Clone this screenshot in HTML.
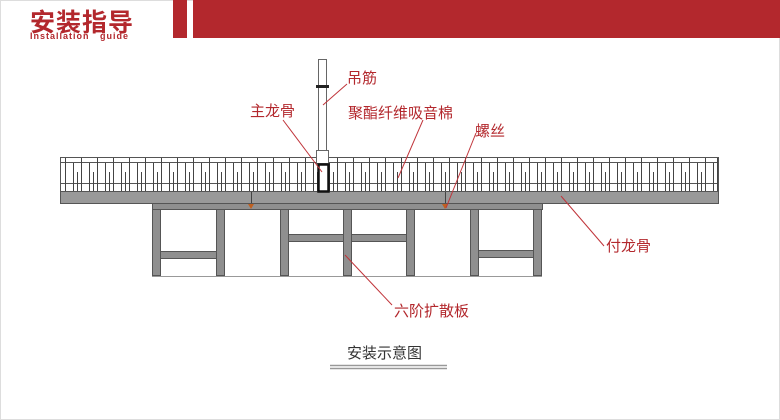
<!DOCTYPE html>
<html><head><meta charset="utf-8"><style>
html,body{margin:0;padding:0;background:#fff;}
body{width:780px;height:420px;position:relative;overflow:hidden;font-family:"Liberation Sans","Noto Sans CJK SC",sans-serif;}
.t{position:absolute;white-space:nowrap;}
</style></head><body>
<svg width="780" height="420" style="position:absolute;left:0;top:0">
<rect x="0.5" y="0.5" width="779" height="419" fill="none" stroke="#ddd"/>
<rect x="173" y="0" width="14" height="38" fill="#b3282d"/>
<rect x="193" y="0" width="587" height="38" fill="#b3282d"/>
<g stroke="#555" stroke-width="1" fill="none">
<rect x="60.5" y="157.5" width="658" height="34"/>
<line x1="60" y1="162.5" x2="718" y2="162.5"/>
<line x1="60" y1="183.5" x2="718" y2="183.5"/>
</g>
<g id="v" stroke="#444" stroke-width="1"></g>
<rect x="60.5" y="191.5" width="658" height="12" fill="#999" stroke="#555"/>
<line x1="251.5" y1="192" x2="251.5" y2="204" stroke="#444"/>
<line x1="445.5" y1="192" x2="445.5" y2="204" stroke="#444"/>
<g fill="#8f8f8f" stroke="#555">
<rect x="152.5" y="203.5" width="390" height="6"/>
<rect x="152.5" y="209.5" width="8" height="66"/>
<rect x="216.5" y="209.5" width="8" height="66"/>
<rect x="280.5" y="209.5" width="8" height="66"/>
<rect x="343.5" y="209.5" width="8" height="66"/>
<rect x="406.5" y="209.5" width="8" height="66"/>
<rect x="470.5" y="209.5" width="8" height="66"/>
<rect x="533.5" y="209.5" width="8" height="66"/>
<rect x="160.5" y="251.5" width="56" height="7"/>
<rect x="288.5" y="234.5" width="55" height="7"/>
<rect x="351.5" y="234.5" width="55" height="7"/>
<rect x="478.5" y="250.5" width="55" height="7"/>
</g>
<line x1="152" y1="276.5" x2="542" y2="276.5" stroke="#999"/>
<path d="M248 204 l3 5 l3 -5 z" fill="#c06020"/>
<path d="M442 204 l3 5 l3 -5 z" fill="#c06020"/>
<rect x="318.5" y="59.5" width="8" height="91" fill="#fff" stroke="#666"/>
<rect x="316" y="85" width="13" height="3" fill="#222"/>
<rect x="316.5" y="150.5" width="12" height="13" fill="#fff" stroke="#666"/>
<rect x="318.5" y="164.5" width="10" height="27" fill="#fff" stroke="#111" stroke-width="2.5"/>
<g stroke="#c0343a" stroke-width="1">
<line x1="323" y1="105" x2="347" y2="84"/>
<line x1="283" y1="120" x2="322" y2="172"/>
<line x1="423" y1="120" x2="398" y2="178"/>
<line x1="476" y1="133" x2="446" y2="208"/>
<line x1="561" y1="196" x2="604" y2="246"/>
<line x1="345" y1="255" x2="392" y2="305"/>
</g>
<line x1="330" y1="365.5" x2="447" y2="365.5" stroke="#999" stroke-width="1.5"/>
<line x1="330" y1="368.5" x2="447" y2="368.5" stroke="#999" stroke-width="1.5"/>
</svg>
<div class="t" style="left:30px;top:3px;font-size:25px;font-weight:bold;color:#b3282d;letter-spacing:1px">安装指导</div>
<div class="t" style="left:30px;top:31px;font-size:9px;font-weight:bold;color:#b3282d;letter-spacing:1px">Installation&nbsp;&nbsp; guide</div>
<div class="t" style="left:347px;top:67px;font-size:15px;color:#b3282d">吊筋</div>
<div class="t" style="left:250px;top:100px;font-size:15px;color:#b3282d">主龙骨</div>
<div class="t" style="left:348px;top:102px;font-size:15px;color:#b3282d">聚酯纤维吸音棉</div>
<div class="t" style="left:475px;top:120px;font-size:15px;color:#b3282d">螺丝</div>
<div class="t" style="left:606px;top:235px;font-size:15px;color:#b3282d">付龙骨</div>
<div class="t" style="left:394px;top:300px;font-size:15px;color:#b3282d">六阶扩散板</div>
<div class="t" style="left:347px;top:342px;font-size:15px;color:#333">安装示意图</div>
<script>
var g=document.getElementById('v'),s='',i=0;
for(var x=65;x<716;x+=8){var tall=(i%2==0);
s+='<line x1="'+(x+.5)+'" y1="'+(tall?158:163)+'" x2="'+(x+.5)+'" y2="191"/>';
if(i%2==1)s+='<line x1="'+(x+4.5)+'" y1="172" x2="'+(x+4.5)+'" y2="191"/>';i++;}
s+='<line x1="717.5" y1="158" x2="717.5" y2="191"/>';
g.innerHTML=s;
</script>
</body></html>
